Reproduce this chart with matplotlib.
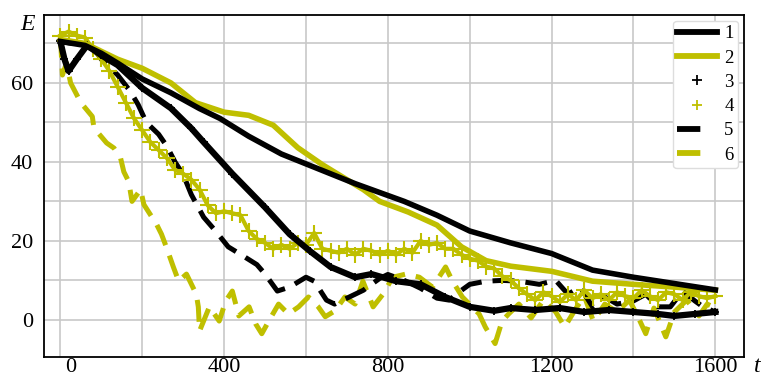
import matplotlib.pyplot as plt
import matplotlib.transforms as mtransforms
from matplotlib.lines import Line2D

plt.rcParams['font.family'] = ['Liberation Serif', 'DejaVu Serif']

black = "#000000"
olive = "#bfbf00"

# 1: black solid
t1 = [0, 30, 60, 100, 140, 200, 270, 340, 390, 460, 540, 600, 660, 720, 760,
      840, 920, 1000, 1100, 1200, 1300, 1400, 1500, 1600]
e1 = [70.5, 70, 69.5, 67.5, 65, 61, 57.5, 53.5, 51, 46.5, 42, 39.5, 37, 34.5, 33,
      30, 26.5, 22.5, 19.5, 16.8, 12.6, 10.8, 9.2, 7.6]

# 2: olive solid
t2 = [0, 30, 60, 100, 140, 200, 270, 330, 400, 460, 520, 580, 640, 700, 740, 780,
      850, 920, 980, 1040, 1100, 1200, 1300, 1400, 1500, 1600]
e2 = [71, 70.5, 70, 68, 66, 63.7, 60, 55, 52.6, 51.8, 49.3, 43.6, 39.3, 35.5, 33, 30,
      27.3, 24, 18.5, 15, 13.6, 12.3, 9.8, 9, 8.3, 7.5]

# 3: black plus
t3 = [0, 10, 20, 40, 65, 100, 140, 200, 270, 320, 350, 420, 500, 560, 610, 660,
      720, 760, 820, 880, 940, 1000, 1060, 1100, 1160, 1220, 1280, 1340, 1400,
      1460, 1500, 1550, 1600]
e3 = [70.5, 66, 63, 66, 69.5, 67, 64.5, 58.7, 53.6, 48.5, 45, 37, 28.5, 21.7, 17.4, 13.4,
      10.8, 11.6, 9.8, 9, 5.8, 3.3, 2.3, 3, 2.5, 3, 2, 2.5, 2, 1.5, 1, 1.5, 2]

# 4: olive plus
t4 = list(range(0, 1601, 20))
e4 = [72, 73, 72, 71.5, 68.5, 66, 63, 59, 55, 51, 48, 45, 43, 41, 38, 37, 35.5,
      33, 29, 27, 27.5, 27, 26.5, 22.5, 20.5, 19.5, 18, 19, 18, 19.5, 19, 22, 18,
      17.5, 17, 18, 16.5, 18, 17.5, 16.5, 17.5, 16.5, 18, 17, 20, 19, 19.5, 18, 18,
      16.5, 15.5, 15, 13.5, 13, 11, 10, 8, 6.5, 5, 7, 6, 4.5, 6.5, 5, 7.5, 5.5, 6.5,
      5, 7, 6, 5.5, 7.5, 6, 5, 7, 6.5, 5, 7, 6, 5.5, 6]

# 5: black dashed
t5 = [0, 30, 60, 80, 100, 140, 170, 190, 210, 240, 260, 280, 300, 320, 350, 380,
      410, 440, 480, 500, 530, 560, 600, 620, 650, 670, 700, 740, 780, 800, 840,
      880, 920, 950, 980, 1000, 1040, 1080, 1120, 1170, 1210, 1240, 1270, 1300,
      1330, 1360, 1400, 1430, 1460, 1490, 1520, 1550, 1570, 1600]
e5 = [70.5, 70, 70, 69, 66, 62, 58, 54.5, 50, 47, 44, 40, 36.8, 31.7, 26, 22.4,
      18.5, 16.6, 14, 11.6, 7.3, 8.3, 10.8, 9.8, 5, 4, 5.5, 7.5, 10.5, 11.5, 10,
      8, 5.5, 5, 7.5, 9, 9.8, 10, 9.8, 9, 10, 6.5, 8.3, 3.3, 5.8, 4, 4.8, 6.5,
      3.3, 3.3, 7.3, 4.8, 3.3, 2]

# 6: olive dashed
t6 = [0, 5, 15, 25, 50, 78, 82, 113, 131, 147, 155, 167, 175, 196, 204, 235, 247,
      259, 276, 289, 308, 332, 337, 340, 364, 388, 404, 420, 436, 461, 477, 492,
      509, 533, 557, 582, 606, 630, 647, 671, 695, 720, 739, 764, 788, 812, 844,
      877, 909, 941, 958, 982, 1006, 1023, 1038, 1062, 1079, 1095, 1120, 1150,
      1180, 1210, 1232, 1260, 1280, 1302, 1330, 1360, 1390, 1410, 1430, 1450,
      1479, 1500, 1530, 1560, 1580, 1600]
e6 = [72, 62, 65, 60, 55, 51.5, 48.6, 44.8, 43.5, 41, 37.5, 35, 30, 33, 29.2, 24.2,
      21.7, 18.4, 13.4, 9.8, 11.6, 6.5, 3.3, -2.8, 3.3, -0.3, 4.8, 7.3, 1, 3.3, -1,
      -3.5, -0.3, 4, 1.5, 3.3, 5.8, 3.3, 0.8, 2.3, 5.8, 4, 9.8, 3.3, 6.5, 10.8,
      11.6, 10.8, 8.3, 13.4, 9.8, 5.8, 3.3, 1.5, -1.8, -6, -0.3, 1.5, 4, 0.5, 5, 2,
      -1.8, 3, 6, -0.3, 4, 2, 5, 1, -3.5, 3, -4.3, 2, 5, 1, 4, 3]

labels = ["1", "2", "3", "4", "5", "6"]

fig = plt.figure(figsize=(7.61, 3.76), dpi=100)
ax = fig.add_axes([44 / 761, 19 / 376, 700 / 761, 342 / 376])

dash = (4.4, 2.2)
ax.plot(t6, e6, color=olive, lw=3.6, dashes=dash, zorder=3)
ax.plot(t5, e5, color=black, lw=3.6, dashes=dash, zorder=3)
ax.plot(t4, e4, color=olive, lw=3, zorder=3)
ax.plot(t4, e4, "+", color=olive, ms=11, mew=1.5, zorder=3)
ax.plot(t3, e3, color=black, lw=4.5, zorder=3)
ax.plot(t3, e3, "+", color=black, ms=6, mew=1.3, zorder=3)
ax.plot(t2, e2, color=olive, lw=4, zorder=3)
ax.plot(t1, e1, color=black, lw=4, zorder=3)

ax.set_xlim(-40, 1670)
ax.set_ylim(-9.4, 77.2)
ax.set_xticks(range(0, 1601, 200))
ax.set_xticklabels(["0", "", "400", "", "800", "", "1200", "", "1600"])
ax.set_yticks(range(0, 71, 10))
ax.set_yticklabels(["0", "", "20", "", "40", "", "60", ""])
ax.tick_params(length=0, labelsize=16)
ax.tick_params(axis="x", pad=0.5)
ax.tick_params(axis="y", pad=8)
ax.grid(True, color="#c8c8c8", lw=1.2)
ax.set_axisbelow(True)
for s in ax.spines.values():
    s.set_linewidth(1.3)

off = mtransforms.ScaledTranslation(10 / 100, 0, fig.dpi_scale_trans)
lab0 = ax.get_xticklabels()[0]
lab0.set_transform(lab0.get_transform() + off)

fig.text(27 / 761, 1 - 24 / 376, "E", fontsize=17, style="italic", ha="center", va="center")
fig.text(757 / 761, 1 - 367 / 376, "t", fontsize=17, style="italic", ha="center", va="center")

handles = [
    Line2D([], [], color=black, lw=4.2),
    Line2D([], [], color=olive, lw=4.2),
    Line2D([], [], color=black, ls="none", marker="+", ms=7, mew=1.3),
    Line2D([], [], color=olive, ls="none", marker="+", ms=7, mew=1.3),
    Line2D([], [], color=black, lw=4.2, dashes=(4.0, 3.0)),
    Line2D([], [], color=olive, lw=4.2, dashes=(4.0, 3.0)),
]
ax.legend(handles, labels, loc="upper right",
          fontsize=13.5, handlelength=2.1, handletextpad=0.4, labelspacing=0.38,
          borderpad=0.25, borderaxespad=0.3, framealpha=1, edgecolor="#dddddd")

fig.savefig("out.png", dpi=100)
